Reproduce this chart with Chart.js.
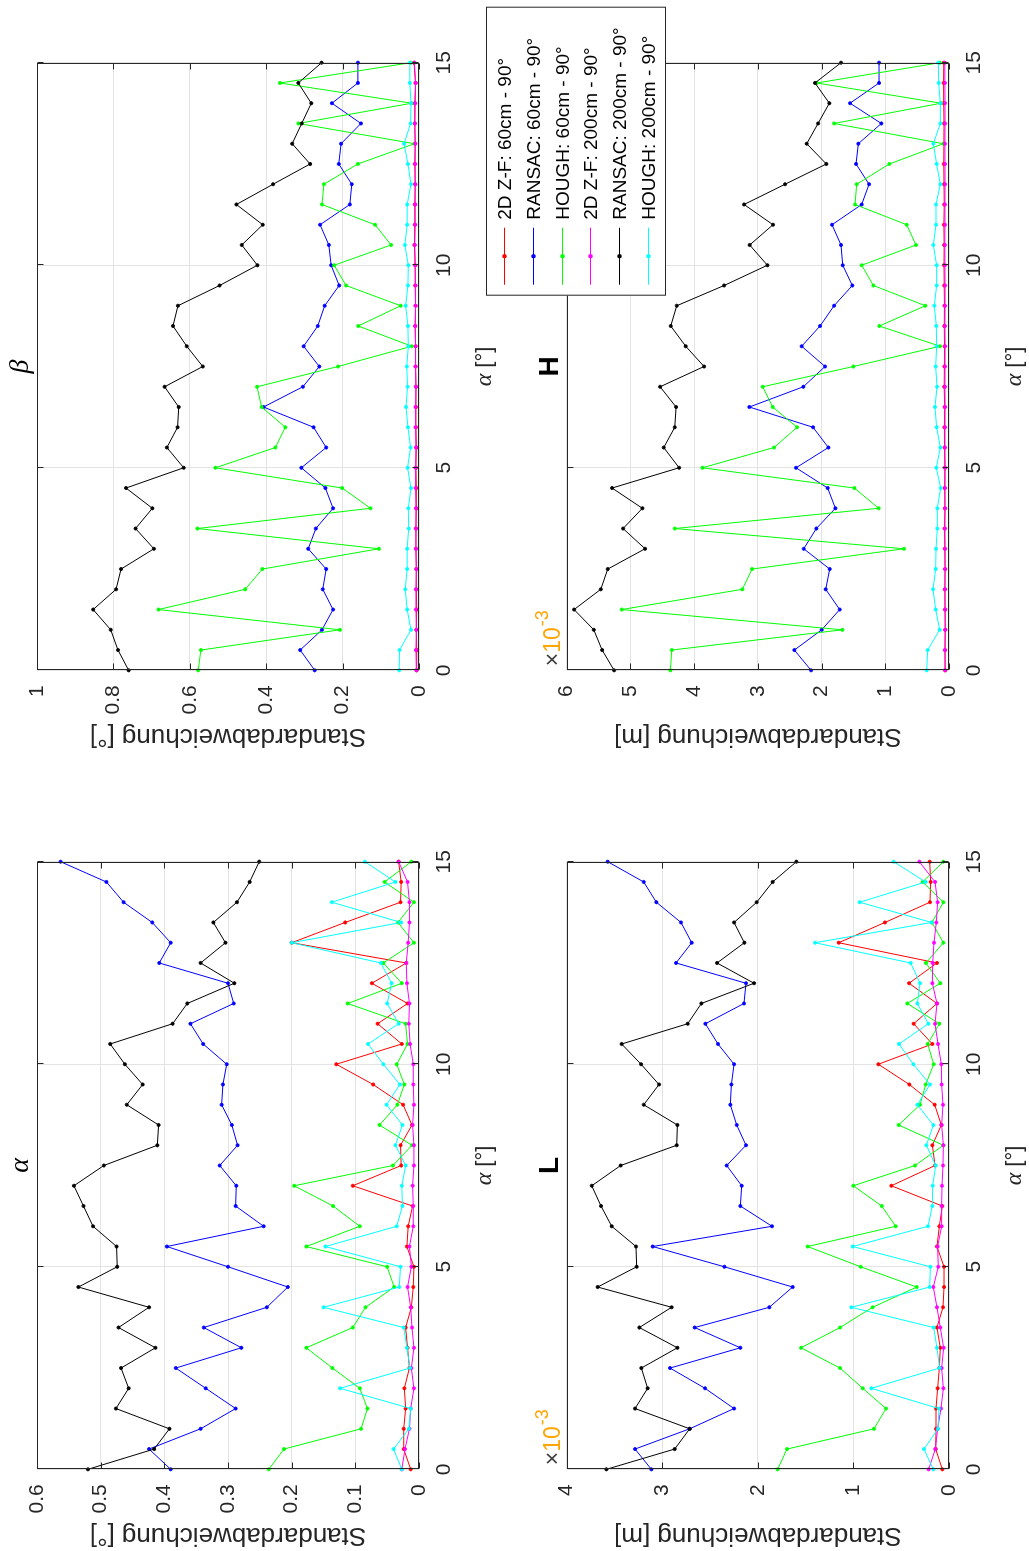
<!DOCTYPE html>
<html>
<head>
<meta charset="utf-8">
<script src="https://cdn.jsdelivr.net/npm/chart.js@4.4.0/dist/chart.umd.min.js"></script>
<style>
html, body { margin: 0; padding: 0; background: #fff; overflow: hidden; width: 1029px; height: 1551px; }
#figure { position: absolute; left: 0; top: 0; width: 1551px; height: 1029px; background: #fff;
          transform-origin: 0 0; transform: translateY(1551px) rotate(-90deg); }
#figure canvas { position: absolute; }
</style>
</head>
<body>
<div id="figure">
  <canvas id="c-alpha" width="760" height="505" style="left:0px;top:0px"></canvas>
  <canvas id="c-beta" width="752" height="505" style="left:799px;top:0px"></canvas>
  <canvas id="c-l" width="760" height="559" style="left:0px;top:470px"></canvas>
  <canvas id="c-h" width="752" height="559" style="left:799px;top:470px"></canvas>
</div>
<script>
// alpha angle [deg] on the x axis of every panel
const alphaDeg = [0, 0.5, 1, 1.5, 2, 2.5, 3, 3.5, 4, 4.5, 5, 5.5, 6, 6.5, 7, 7.5,
                  8, 8.5, 9, 9.5, 10, 10.5, 11, 11.5, 12, 12.5, 13, 13.5, 14, 14.5, 15]

const seriesLabels = ['2D Z-F: 60cm - 90°', 'RANSAC: 60cm - 90°', 'HOUGH: 60cm - 90°',
                      '2D Z-F: 200cm - 90°', 'RANSAC: 200cm - 90°', 'HOUGH: 200cm - 90°']
const seriesColors = ['#ff0000', '#0000ff', '#00ff00', '#ff00ff', '#000000', '#00ffff']

// panel alpha, std dev [deg]
const alphaZF60 = [0.013, 0.024, 0.024, 0.021, 0.023, 0.015, 0.018, 0.021, 0.012, 0.009, 0.008, 0.019, 0.017, 0.010, 0.104, 0.028,
                   0.029, 0.011, 0.025, 0.072, 0.130, 0.027, 0.065, 0.018, 0.074, 0.020, 0.200, 0.116, 0.029, 0.028, 0.032]
const alphaRansac60 = [0.390, 0.424, 0.343, 0.288, 0.335, 0.382, 0.279, 0.338, 0.239, 0.206, 0.300, 0.396, 0.244, 0.288, 0.287, 0.313,
                       0.285, 0.294, 0.310, 0.308, 0.302, 0.339, 0.359, 0.291, 0.300, 0.408, 0.390, 0.419, 0.464, 0.491, 0.563]
const alphaHough60 = [0.236, 0.212, 0.091, 0.081, 0.093, 0.136, 0.177, 0.104, 0.084, 0.039, 0.050, 0.177, 0.093, 0.135, 0.196, 0.041,
                      0.011, 0.062, 0.034, 0.023, 0.035, 0.018, 0.021, 0.112, 0.027, 0.056, 0.008, 0.033, 0.008, 0.054, 0.012]
const alphaZF200 = [0.027, 0.022, 0.015, 0.013, 0.008, 0.012, 0.008, 0.011, 0.013, 0.018, 0.012, 0.015, 0.009, 0.009, 0.010, 0.008,
                    0.008, 0.010, 0.008, 0.009, 0.009, 0.014, 0.016, 0.015, 0.019, 0.020, 0.017, 0.015, 0.015, 0.018, 0.032]
const alphaRansac200 = [0.520, 0.416, 0.392, 0.476, 0.456, 0.468, 0.414, 0.472, 0.424, 0.535, 0.474, 0.475, 0.512, 0.527, 0.542, 0.495,
                        0.411, 0.409, 0.459, 0.434, 0.462, 0.485, 0.387, 0.364, 0.290, 0.343, 0.304, 0.323, 0.286, 0.266, 0.251]
const alphaHough200 = [0.027, 0.040, 0.016, 0.013, 0.124, 0.014, 0.019, 0.024, 0.150, 0.031, 0.029, 0.147, 0.035, 0.026, 0.027, 0.021,
                       0.037, 0.026, 0.051, 0.030, 0.056, 0.080, 0.032, 0.050, 0.043, 0.060, 0.200, 0.028, 0.137, 0.037, 0.085]

// panel beta, std dev [deg]
const betaZF60 = [0.006, 0.006, 0.007, 0.006, 0.007, 0.007, 0.008, 0.008, 0.007, 0.007, 0.008, 0.007, 0.008, 0.008, 0.008, 0.009,
                  0.009, 0.010, 0.009, 0.010, 0.010, 0.012, 0.011, 0.011, 0.010, 0.011, 0.010, 0.011, 0.011, 0.009, 0.013]
const betaRansac60 = [0.273, 0.311, 0.254, 0.225, 0.252, 0.243, 0.290, 0.270, 0.225, 0.245, 0.308, 0.243, 0.276, 0.407, 0.304, 0.261,
                      0.302, 0.265, 0.247, 0.209, 0.230, 0.236, 0.259, 0.181, 0.176, 0.210, 0.204, 0.152, 0.228, 0.160, 0.160]
const betaHough60 = [0.578, 0.571, 0.207, 0.682, 0.455, 0.410, 0.105, 0.580, 0.127, 0.201, 0.533, 0.376, 0.350, 0.412, 0.424, 0.212,
                     0.019, 0.159, 0.048, 0.191, 0.222, 0.073, 0.115, 0.254, 0.249, 0.160, 0.012, 0.316, 0.019, 0.364, 0.021]
const betaZF200 = [0.007, 0.008, 0.007, 0.008, 0.008, 0.007, 0.008, 0.008, 0.008, 0.009, 0.009, 0.008, 0.009, 0.009, 0.008, 0.009,
                   0.009, 0.010, 0.009, 0.009, 0.010, 0.011, 0.010, 0.010, 0.010, 0.010, 0.010, 0.011, 0.010, 0.009, 0.012]
const betaRansac200 = [0.760, 0.788, 0.807, 0.853, 0.793, 0.780, 0.694, 0.742, 0.698, 0.767, 0.616, 0.660, 0.632, 0.629, 0.666, 0.566,
                       0.608, 0.644, 0.631, 0.522, 0.423, 0.464, 0.409, 0.478, 0.382, 0.285, 0.332, 0.307, 0.282, 0.316, 0.255]
const betaHough200 = [0.052, 0.051, 0.021, 0.031, 0.036, 0.031, 0.031, 0.027, 0.028, 0.021, 0.030, 0.022, 0.029, 0.034, 0.030, 0.032,
                      0.028, 0.029, 0.035, 0.029, 0.028, 0.037, 0.031, 0.031, 0.021, 0.029, 0.039, 0.022, 0.021, 0.024, 0.024]

// panel L, std dev [m] x 10^-3
const lZF60 = [0.070, 0.139, 0.136, 0.136, 0.119, 0.101, 0.091, 0.126, 0.063, 0.052, 0.052, 0.126, 0.101, 0.070, 0.603, 0.146,
               0.174, 0.080, 0.150, 0.415, 0.739, 0.174, 0.370, 0.126, 0.418, 0.126, 1.154, 0.670, 0.199, 0.192, 0.202]
const lRansac60 = [3.114, 3.285, 2.713, 2.249, 2.553, 2.919, 2.183, 2.661, 1.880, 1.636, 2.350, 3.100, 1.852, 2.183, 2.169, 2.326,
                   2.124, 2.221, 2.288, 2.277, 2.249, 2.417, 2.549, 2.145, 2.124, 2.856, 2.692, 2.804, 3.062, 3.194, 3.571]
const lHough60 = [1.793, 1.695, 0.785, 0.659, 0.903, 1.140, 1.548, 1.140, 0.799, 0.338, 0.924, 1.479, 0.558, 0.704, 1.001, 0.356,
                  0.059, 0.527, 0.303, 0.244, 0.160, 0.223, 0.101, 0.436, 0.091, 0.241, 0.059, 0.178, 0.059, 0.276, 0.059]
const lZF200 = [0.213, 0.143, 0.119, 0.084, 0.059, 0.077, 0.056, 0.091, 0.126, 0.164, 0.112, 0.119, 0.077, 0.077, 0.073, 0.063,
                0.059, 0.077, 0.063, 0.077, 0.080, 0.115, 0.146, 0.126, 0.174, 0.171, 0.157, 0.133, 0.119, 0.146, 0.310]
const lRansac200 = [3.585, 2.870, 2.713, 3.285, 3.153, 3.219, 2.842, 3.240, 2.902, 3.676, 3.268, 3.275, 3.529, 3.641, 3.738, 3.435,
                    2.849, 2.842, 3.194, 3.034, 3.222, 3.425, 2.734, 2.591, 2.040, 2.427, 2.141, 2.249, 2.012, 1.845, 1.597]
const lHough200 = [0.164, 0.262, 0.115, 0.105, 0.813, 0.098, 0.126, 0.160, 1.022, 0.202, 0.195, 1.008, 0.220, 0.174, 0.171, 0.139,
                   0.237, 0.164, 0.331, 0.199, 0.373, 0.523, 0.216, 0.331, 0.303, 0.401, 1.402, 0.181, 0.935, 0.244, 0.579]

// panel H, std dev [m] x 10^-3
const hZF60 = [0.060, 0.062, 0.058, 0.063, 0.065, 0.062, 0.066, 0.070, 0.064, 0.068, 0.065, 0.070, 0.072, 0.068, 0.075, 0.072,
               0.070, 0.074, 0.071, 0.075, 0.078, 0.076, 0.080, 0.075, 0.078, 0.082, 0.080, 0.078, 0.083, 0.085, 0.082]
const hRansac60 = [2.165, 2.427, 1.998, 1.715, 1.935, 1.872, 2.280, 2.082, 1.783, 1.904, 2.401, 1.893, 2.134, 3.133, 2.286, 1.946,
                   2.312, 2.024, 1.804, 1.517, 1.668, 1.695, 1.836, 1.370, 1.255, 1.459, 1.423, 1.062, 1.553, 1.098, 1.098]
const hHough60 = [4.372, 4.351, 1.674, 5.136, 3.243, 3.091, 0.706, 4.304, 1.104, 1.485, 3.870, 2.746, 2.385, 2.767, 2.924, 1.501,
                  0.141, 1.093, 0.371, 1.187, 1.370, 0.518, 0.664, 1.475, 1.449, 0.936, 0.089, 1.804, 0.126, 2.076, 0.141]
const hZF200 = [0.062, 0.064, 0.061, 0.060, 0.063, 0.061, 0.062, 0.064, 0.062, 0.063, 0.061, 0.064, 0.063, 0.062, 0.064, 0.063,
                0.062, 0.064, 0.063, 0.062, 0.064, 0.065, 0.063, 0.064, 0.062, 0.063, 0.064, 0.062, 0.063, 0.064, 0.066]
const hRansac200 = [5.256, 5.444, 5.575, 5.884, 5.465, 5.356, 4.770, 5.115, 4.812, 5.288, 4.236, 4.477, 4.304, 4.283, 4.534, 3.844,
                    4.132, 4.367, 4.273, 3.530, 2.850, 3.128, 2.762, 3.216, 2.573, 1.925, 2.233, 2.055, 1.878, 2.103, 1.695]
const hHough200 = [0.350, 0.335, 0.146, 0.209, 0.251, 0.209, 0.204, 0.183, 0.183, 0.131, 0.199, 0.136, 0.194, 0.220, 0.188, 0.209,
                   0.194, 0.199, 0.230, 0.194, 0.194, 0.246, 0.204, 0.204, 0.136, 0.194, 0.246, 0.136, 0.136, 0.162, 0.167]

const SANS = '"Liberation Sans", Arial, Helvetica, sans-serif'
const SERIF = '"Liberation Serif", "Times New Roman", serif'
const AXIS_COLOR = '#262626'
const GRID_COLOR = '#e3e3e3'

// draws the box, inward ticks, titles, x label, exponent and legend
const decor = {
    id: 'decor',
    afterDraw: (chart, args, o) => {
        const { ctx, chartArea: a, scales: { x, y } } = chart
        const l = Math.round(a.left) + 0.5, r = Math.round(a.right) - 0.5
        const t = Math.round(a.top) + 0.5, b = Math.round(a.bottom) - 0.5
        ctx.save()
        ctx.strokeStyle = AXIS_COLOR
        ctx.lineWidth = 1
        ctx.beginPath()
        x.ticks.forEach(tk => {
            const px = Math.round(x.getPixelForValue(tk.value)) + 0.5
            ctx.moveTo(px, b); ctx.lineTo(px, b - 6)
            ctx.moveTo(px, t); ctx.lineTo(px, t + 6)
        })
        y.ticks.forEach(tk => {
            const py = Math.round(y.getPixelForValue(tk.value)) + 0.5
            ctx.moveTo(l, py); ctx.lineTo(l + 6, py)
            ctx.moveTo(r, py); ctx.lineTo(r - 6, py)
        })
        ctx.stroke()
        ctx.strokeRect(l, t, r - l, b - t)

        const cx = (a.left + a.right) / 2
        ctx.fillStyle = '#000'
        ctx.textAlign = 'center'
        ctx.textBaseline = 'alphabetic'
        ctx.font = o.titleFont
        ctx.fillText(o.title, cx, a.top - 9)

        // x axis label: italic alpha + [°]
        ctx.fillStyle = AXIS_COLOR
        ctx.textAlign = 'left'
        const f1 = 'italic 24px ' + SERIF, f2 = '22px ' + SANS
        ctx.font = f1
        const w1 = ctx.measureText('α').width
        ctx.font = f2
        const w2 = ctx.measureText(' [°]').width
        const x0 = cx - (w1 + w2) / 2
        const by = a.bottom + 72
        ctx.font = f1
        ctx.fillText('α', x0, by)
        ctx.font = f2
        ctx.fillText(' [°]', x0 + w1, by)

        if (o.exponent) {
            let ex = a.left + 4
            ctx.font = '23px ' + SANS
            ctx.fillStyle = '#404040'
            ctx.fillText('×', ex, a.top - 7)
            ex += ctx.measureText('×').width
            ctx.fillStyle = '#ffa500'
            ctx.fillText('10', ex, a.top - 7)
            ex += ctx.measureText('10').width
            ctx.font = '18px ' + SANS
            ctx.fillText('-3', ex + 1, a.top - 19)
        }

        if (o.legend) {
            const g = o.legend
            ctx.fillStyle = '#fff'
            ctx.fillRect(g.x, g.y, g.w, g.h)
            ctx.strokeStyle = AXIS_COLOR
            ctx.strokeRect(g.x + 0.5, g.y + 0.5, g.w, g.h)
            ctx.font = '19px ' + SANS
            ctx.textBaseline = 'middle'
            chart.data.datasets.forEach((ds, i) => {
                const ry = Math.round(g.y + g.row0 + i * g.dy) + 0.5
                ctx.strokeStyle = ds.borderColor
                ctx.beginPath()
                ctx.moveTo(g.x + 11, ry); ctx.lineTo(g.x + 68, ry)
                ctx.stroke()
                ctx.fillStyle = ds.borderColor
                ctx.beginPath()
                ctx.arc(g.x + 39.5, ry, 2.2, 0, Math.PI * 2)
                ctx.fill()
                ctx.fillStyle = '#000'
                ctx.fillText(ds.label, g.x + 76, ry + 1)
            })
        }
        ctx.restore()
    }
}

function make_panel(id, values, y_max, y_step, cfg) {
    const datasets = values.map((vals, i) => ({
        label: seriesLabels[i],
        data: vals.map((v, k) => ({ x: alphaDeg[k], y: v })),
        borderColor: seriesColors[i],
        backgroundColor: seriesColors[i],
        borderWidth: 1,
        pointRadius: 1.6,
        pointBorderWidth: 0.8,
        tension: 0,
        clip: 4,
        order: values.length - i,
    }))

    new Chart(document.getElementById(id), {
        type: 'line',
        data: { datasets },
        options: {
            responsive: false,
            animation: false,
            events: [],
            layout: { padding: { left: 0, top: cfg.top, right: cfg.right, bottom: 0 } },
            plugins: {
                legend: { display: false },
                tooltip: { enabled: false },
                decor: { title: cfg.title, titleFont: cfg.titleFont, exponent: cfg.exponent, legend: cfg.legend },
            },
            scales: {
                x: {
                    type: 'linear', min: 0, max: 15,
                    ticks: { stepSize: 5, padding: 13, maxRotation: 0, color: AXIS_COLOR, font: { family: SANS, size: 21 } },
                    grid: { color: GRID_COLOR, drawTicks: false },
                    border: { display: false },
                    afterFit: scale => { scale.height = cfg.xh },
                },
                y: {
                    type: 'linear', min: 0, max: y_max,
                    ticks: {
                        stepSize: y_step, padding: 15, color: AXIS_COLOR, font: { family: SANS, size: 21 },
                        callback: value => String(+value.toFixed(2)),
                    },
                    grid: { color: GRID_COLOR, drawTicks: false },
                    border: { display: false },
                    title: { display: true, text: cfg.ylabel, color: AXIS_COLOR, padding: 0, font: { family: SANS, size: 26 } },
                    afterFit: scale => { scale.width = 81.7 },
                },
            },
        },
        plugins: [decor],
    })
}

const top_row = { top: 37, xh: 86 }
const bottom_row = { top: 96.7, xh: 80 }

make_panel('c-alpha', [alphaZF60, alphaRansac60, alphaHough60, alphaZF200, alphaRansac200, alphaHough200], 0.6, 0.1,
    { ...top_row, right: 70.7, title: 'α', titleFont: 'italic 28px ' + SERIF, ylabel: 'Standardabweichung [°]' })
make_panel('c-beta', [betaZF60, betaRansac60, betaHough60, betaZF200, betaRansac200, betaHough200], 1, 0.2,
    { ...top_row, right: 62.7, title: 'β', titleFont: 'italic 28px ' + SERIF, ylabel: 'Standardabweichung [°]' })
make_panel('c-l', [lZF60, lRansac60, lHough60, lZF200, lRansac200, lHough200], 4, 1,
    { ...bottom_row, right: 70.7, title: 'L', titleFont: 'bold 28px ' + SANS, ylabel: 'Standardabweichung [m]', exponent: true })
make_panel('c-h', [hZF60, hRansac60, hHough60, hZF200, hRansac200, hHough200], 6, 1,
    { ...bottom_row, right: 62.7, title: 'H', titleFont: 'bold 28px ' + SANS, ylabel: 'Standardabweichung [m]', exponent: true,
      legend: { x: 456.3, y: 16, w: 288, h: 179, row0: 18, dy: 28.8 } })
</script>
</body>
</html>
